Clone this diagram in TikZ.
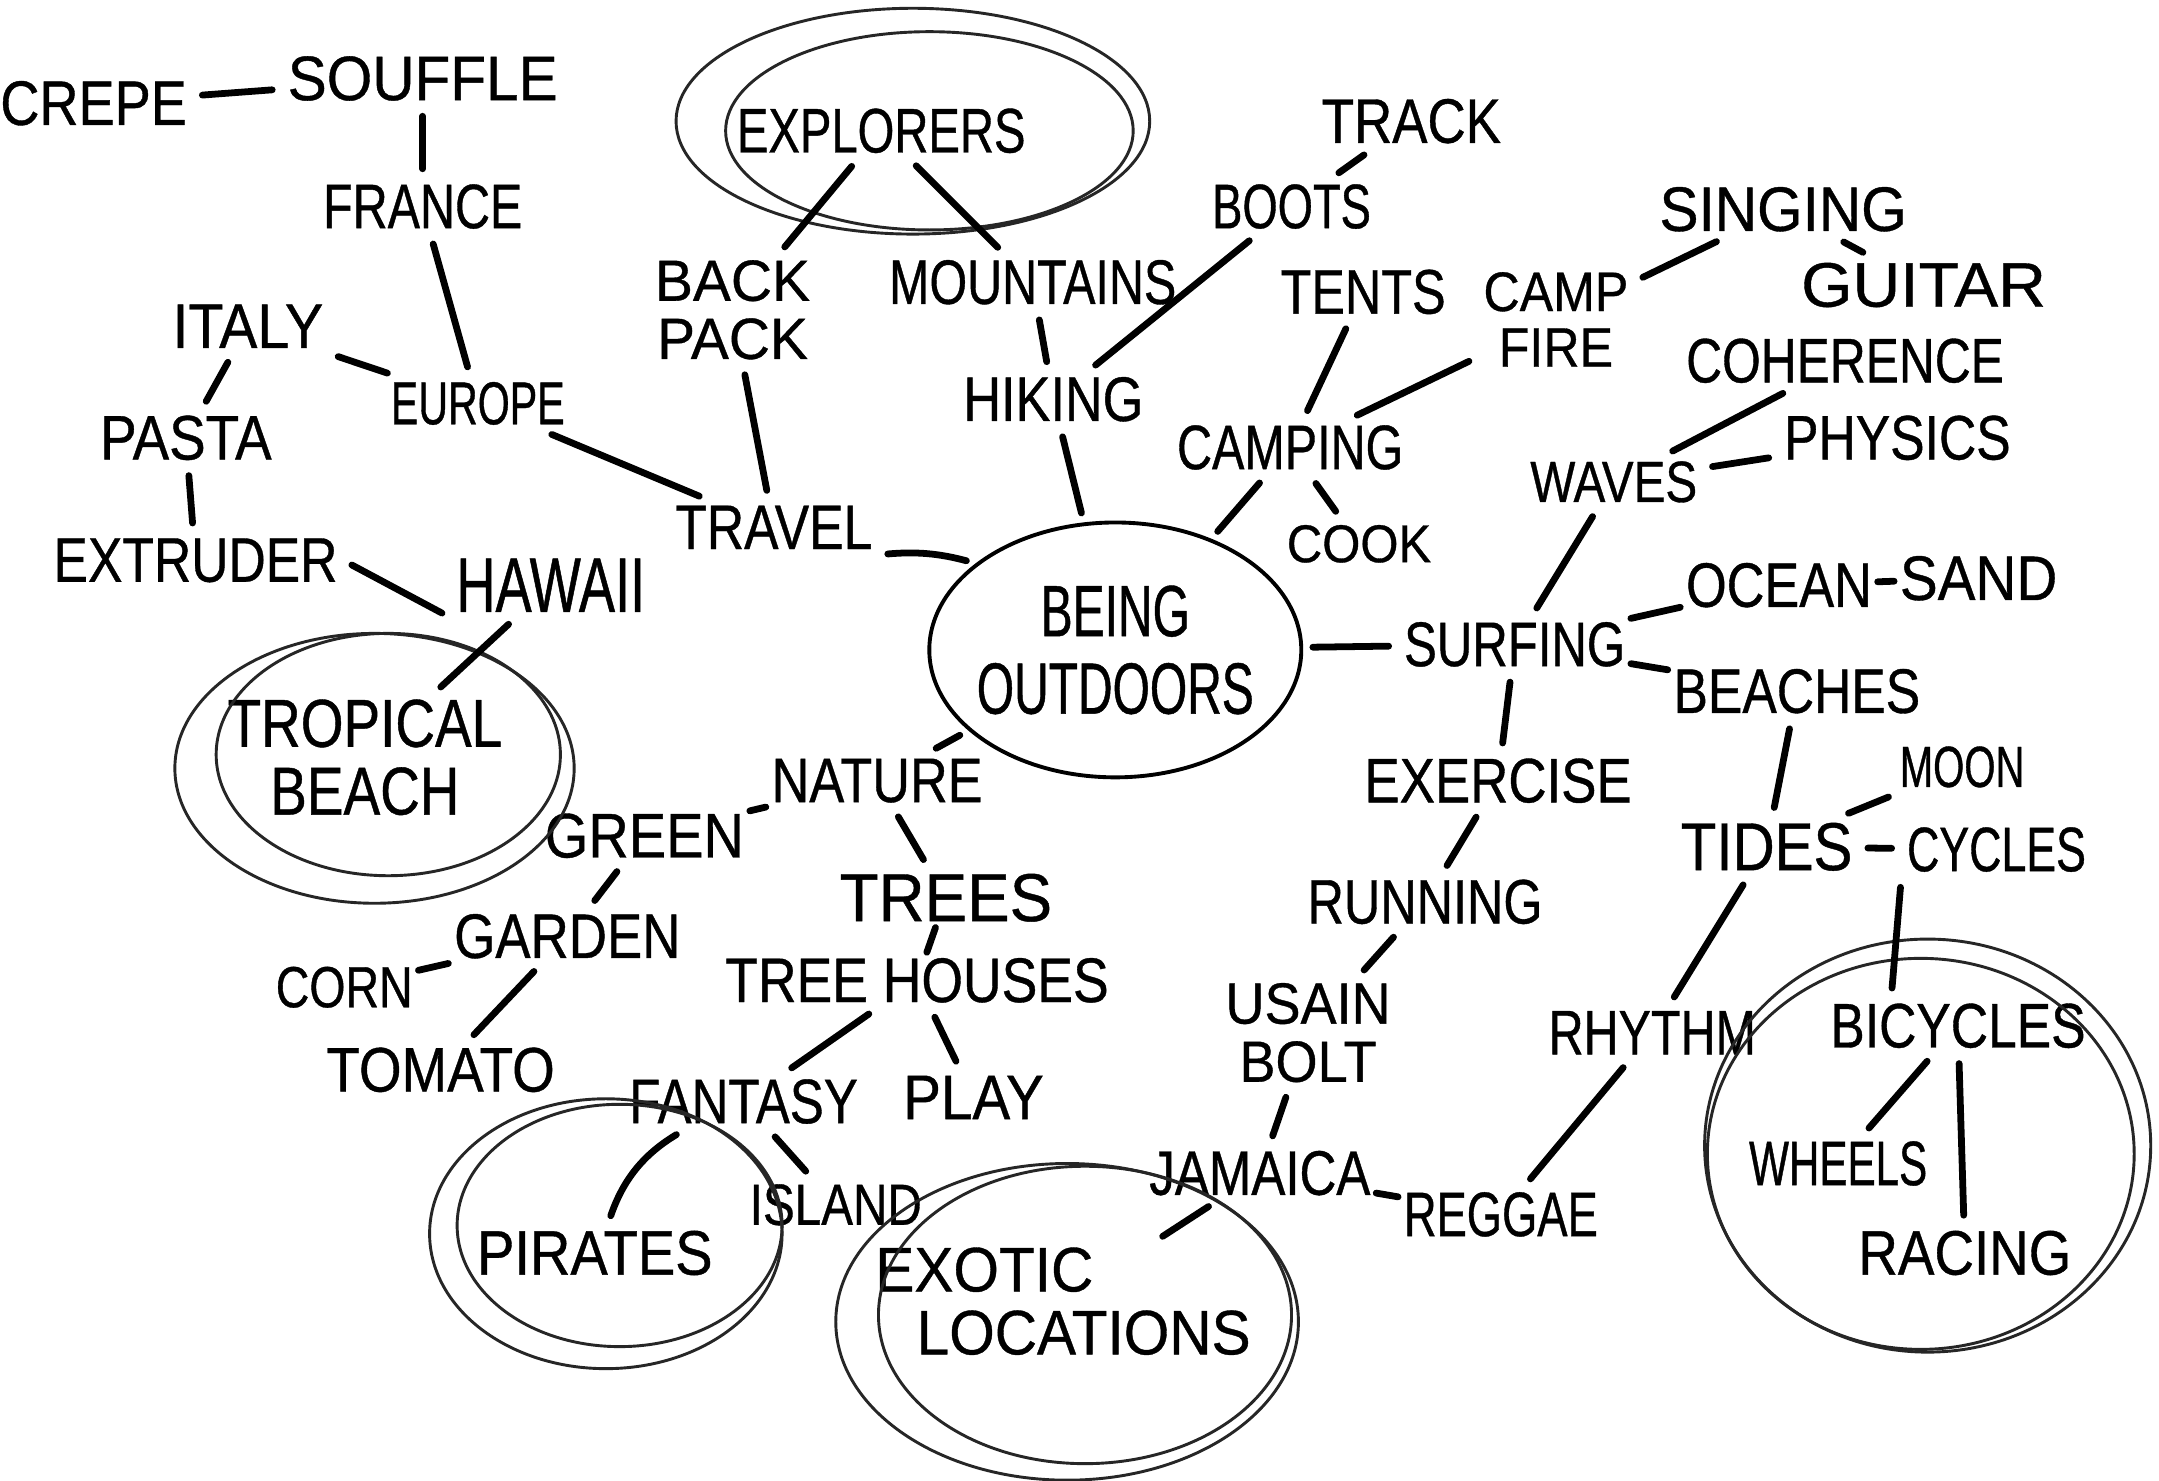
\documentclass[tikz,border=0pt]{standalone}
\usepackage{fontspec}
\setmainfont{Liberation Sans}
\usetikzlibrary{shapes.geometric,calc}
\begin{document}
\begin{tikzpicture}[x=0.01cm,y=-0.01cm,
  w/.style 2 args={font=\fontsize{#1}{#1}\selectfont\addfontfeatures{FakeStretch=#2,FakeBold=0.6}, inner sep=1pt, align=center},
  con/.style={line width=1.4pt, line cap=round, shorten <=2pt, shorten >=2pt},
  tight/.style={shorten <=0pt, shorten >=0pt},
  ring/.style={line width=0.6pt, draw=black!85},
  being/.style={ellipse, draw, line width=0.8pt, minimum width=2.7cm, minimum height=1.85cm, inner xsep=-6pt, inner ysep=0pt, align=center}]
\useasboundingbox[fill=white] (0,0) rectangle (1568,1075);

% nodes
\node[w={13}{0.86}] (crepe) at (68,75) {CREPE};
\node[w={13}{0.93}] (souffle) at (307,57) {SOUFFLE};
\node[w={13}{0.77}] (france) at (307,150) {FRANCE};
\node[w={13}{0.91}] (italy) at (180,237) {ITALY};
\node[w={12.5}{0.68}] (europe) at (347,293) {EUROPE};
\node[w={13}{0.87}] (pasta) at (135,318) {PASTA};
\node[w={13}{0.82}] (extruder) at (142,407) {EXTRUDER};
\node[w={16}{0.70}] (hawaii) at (400,425) {HAWAII};
\node[w={13}{0.82}] (travel) at (562,383) {TRAVEL};
\node[w={12}{0.98}] (backpack) at (532,225) {BACK\\PACK};
\node[w={13}{0.75}] (explorers) at (640,95) {EXPLORERS};
\node[w={13}{0.77}] (mountains) at (750,205) {MOUNTAINS};
\node[w={13}{0.83}] (hiking) at (765,290) {HIKING};
\node[w={13}{0.72}] (boots) at (938,150) {BOOTS};
\node[w={13}{0.84}] (track) at (1025,88) {TRACK};
\node[w={13}{0.80}] (tents) at (990,212) {TENTS};
\node[w={11.5}{0.90}] (campfire) at (1130,232) {CAMP\\FIRE};
\node[w={13}{0.93}] (singing) at (1295,152) {SINGING};
\node[w={13}{1.05}] (guitar) at (1397,207) {GUITAR};
\node[w={13}{0.77}] (camping) at (937,325) {CAMPING};
\node[w={11}{0.92}] (cook) at (987,395) {COOK};
\node[w={13}{0.79}] (coherence) at (1340,262) {COHERENCE};
\node[w={12}{0.82}] (waves) at (1172,350) {WAVES};
\node[w={13}{0.82}] (physics) at (1378,318) {PHYSICS};
\node[being, font=\fontsize{15}{16}\selectfont\addfontfeatures{FakeStretch=0.66,FakeBold=0.6}] (being) at (810,472) {BEING\\OUTDOORS};
\node[w={13}{0.78}] (surfing) at (1100,468) {SURFING};
\node[w={13}{0.83}] (ocean) at (1292,425) {OCEAN};
\node[w={13}{0.90}] (sand) at (1437,420) {SAND};
\node[w={13}{0.82}] (beaches) at (1305,502) {BEACHES};
\node[w={13}{0.84}] (exercise) at (1088,567) {EXERCISE};
\node[w={14}{0.86}] (tides) at (1283,615) {TIDES};
\node[w={12}{0.69}] (moon) at (1425,557) {MOON};
\node[w={13}{0.71}] (cycles) at (1450,617) {CYCLES};
\node[w={13}{0.80}] (running) at (1035,655) {RUNNING};
\node[w={12}{0.93}] (usain) at (950,750) {USAIN\\BOLT};
\node[w={13}{0.81}] (jamaica) at (915,852) {JAMAICA};
\node[w={13}{0.72}] (reggae) at (1090,882) {REGGAE};
\node[w={13}{0.77}] (rhythm) at (1200,750) {RHYTHM};
\node[w={13}{0.82}] (bicycles) at (1422,745) {BICYCLES};
\node[w={13}{0.67}] (wheels) at (1335,845) {WHEELS};
\node[w={13}{0.87}] (racing) at (1427,910) {RACING};
\node[w={13}{0.93}, align=left] (exotic) at (772,945) {EXOTIC\\\hspace*{0.3cm}LOCATIONS};
\node[w={13}{0.83}] (nature) at (637,567) {NATURE};
\node[w={13}{0.89}] (green) at (468,607) {GREEN};
\node[w={13}{0.84}] (garden) at (412,680) {GARDEN};
\node[w={12}{0.80}] (corn) at (250,717) {CORN};
\node[w={13}{0.87}] (tomato) at (320,777) {TOMATO};
\node[w={14}{0.94}] (trees) at (687,652) {TREES};
\node[w={13}{0.85}] (treehouses) at (666,712) {TREE HOUSES};
\node[w={13}{0.81}] (fantasy) at (540,800) {FANTASY};
\node[w={13}{0.90}] (play) at (707,797) {PLAY};
\node[w={12}{0.82}] (island) at (607,875) {ISLAND};
\node[w={13}{0.89}] (pirates) at (432,910) {PIRATES};
\node[w={14}{0.81}] (tropical) at (265,550) {TROPICAL\\BEACH};

% group rings
\draw[ring] (663,88) ellipse [x radius=172, y radius=82];
\draw[ring] (675,95) ellipse [x radius=148, y radius=72];
\draw[ring] (272,558) ellipse [x radius=145, y radius=98];
\draw[ring] (282,548) ellipse [x radius=125, y radius=88];
\draw[ring] (440,896) ellipse [x radius=128, y radius=98];
\draw[ring] (450,890) ellipse [x radius=118, y radius=88];
\draw[ring] (775,960) ellipse [x radius=168, y radius=115];
\draw[ring] (788,955) ellipse [x radius=150, y radius=108];
\draw[ring] (1400,832) ellipse [x radius=162, y radius=150];
\draw[ring] (1395,838) ellipse [x radius=155, y radius=142];

% connectors
\draw[con] (crepe) -- (souffle);
\draw[con] (souffle) -- (france);
\draw[con] (france) -- (europe);
\draw[con] (italy) -- (europe);
\draw[con] (italy) -- (pasta);
\draw[con] (pasta) -- (extruder);
\draw[con] (extruder.east) -- (hawaii.south west);
\draw[con] (europe) -- (travel);
\draw[con] (backpack) -- (travel);
\draw[con] (explorers) -- (backpack);
\draw[con] (explorers) -- (mountains);
\draw[con] (mountains) -- (hiking);
\draw[con] (hiking) -- (being);
\draw[con] (hiking) -- (boots);
\draw[con] (boots) -- (track);
\draw[con] (tents) -- (camping);
\draw[con] (campfire) -- (camping);
\draw[con] (campfire) -- (singing);
\draw[con] (singing) -- (guitar);
\draw[con] (camping) -- (being);
\draw[con] (camping) -- (cook);
\draw[con] (waves) -- (coherence);
\draw[con] (waves) -- (physics);
\draw[con] (waves) -- (surfing);
\draw[con] (being) -- (surfing);
\draw[con, tight] (surfing) -- (ocean);
\draw[con, tight] (ocean) -- (sand);
\draw[con, tight] (surfing) -- (beaches);
\draw[con] (surfing) -- (exercise);
\draw[con] (beaches) -- (tides);
\draw[con] (tides) -- (moon);
\draw[con] (tides) -- (cycles);
\draw[con] (exercise) -- (running);
\draw[con] (running) -- (usain);
\draw[con] (usain) -- (jamaica);
\draw[con, tight] (jamaica) -- (reggae);
\draw[con] (rhythm) -- (reggae);
\draw[con] (tides) -- (rhythm);
\draw[con] (cycles.south west) -- ($(bicycles.north west)!0.25!(bicycles.north east)$);
\draw[con] (bicycles) -- (wheels);
\draw[con] (bicycles) -- (racing);
\draw[con] (jamaica) -- (exotic);
\draw[con] (being) -- (nature);
\draw[con, tight] (nature) -- (green);
\draw[con] (green) -- (garden);
\draw[con, tight] (corn) -- (garden);
\draw[con] (garden) -- (tomato);
\draw[con] (nature) -- (trees);
\draw[con, tight] (trees) -- (treehouses);
\draw[con] (treehouses) -- (fantasy);
\draw[con] (treehouses) -- (play);
\draw[con] (fantasy) -- (island);
\draw[con] (fantasy) to[bend right=20] (pirates);
\draw[con] (hawaii) -- (tropical);
\draw[con] (travel.south east) to[bend left=10] (being);
\end{tikzpicture}
\end{document}
